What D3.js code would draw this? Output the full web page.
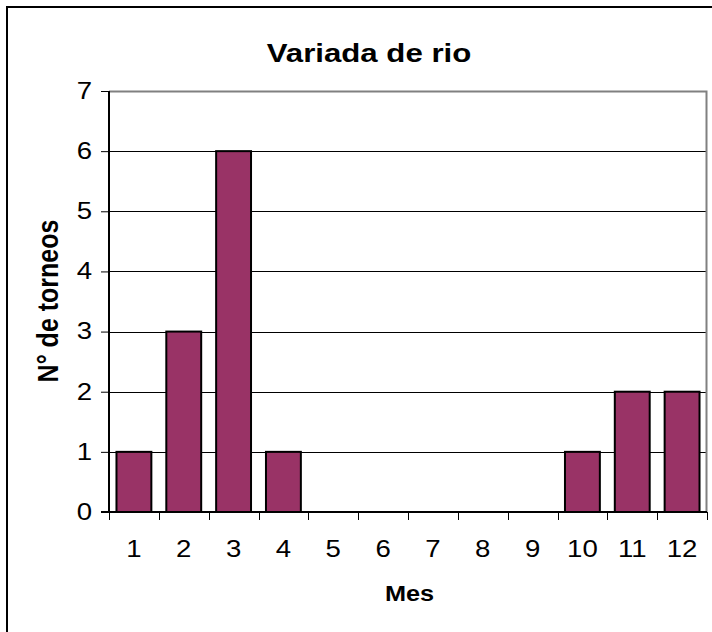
<!DOCTYPE html>
<html>
<head>
<meta charset="utf-8">
<script src="https://cdn.jsdelivr.net/npm/d3@7"></script>
<style>
  html, body { margin: 0; padding: 0; background: #fff; }
  svg { display: block; }
  text { font-family: "Liberation Sans", Arial, Helvetica, sans-serif; fill: #000; }
</style>
</head>
<body>
<svg id="chart" width="712" height="632"></svg>
<script>
const categories = ["1","2","3","4","5","6","7","8","9","10","11","12"];
const values = [1, 3, 6, 1, 0, 0, 0, 0, 0, 1, 2, 2];
const yTicks = [0, 1, 2, 3, 4, 5, 6, 7];
const titleText = "Variada de rio";
const xTitle = "Mes";
const yTitle = "N° de torneos";

const svg = d3.select("#chart");
const plot = { left: 109, right: 707, top: 91, bottom: 512 };

// outer chart border
svg.append("rect")
  .attr("x", 7).attr("y", 7)
  .attr("width", 740).attr("height", 660)
  .attr("fill", "#fff").attr("stroke", "#000").attr("stroke-width", 2);

const xb = d3.scaleBand().domain(categories).range([plot.left, plot.right]);
const y = d3.scaleLinear().domain([0, 7]).range([plot.bottom, plot.top]);

// gridlines
svg.append("g").selectAll("line").data(yTicks.filter(d => d > 0)).join("line")
  .attr("x1", plot.left).attr("x2", plot.right)
  .attr("y1", d => Math.round(y(d)) + 0.5).attr("y2", d => Math.round(y(d)) + 0.5)
  .attr("stroke", "#000").attr("stroke-width", 1);

// plot area border (gray top/right)
svg.append("path")
  .attr("d", `M${plot.left},${plot.top + 0.5}H${plot.right - 0.5}V${plot.bottom}`)
  .attr("fill", "none").attr("stroke", "#808080").attr("stroke-width", 2);

// bars
svg.append("g").selectAll("rect")
  .data(values.map((v, i) => ({ c: categories[i], v })).filter(d => d.v > 0))
  .join("rect")
  .attr("x", d => xb(d.c) + xb.bandwidth() * 0.15)
  .attr("width", xb.bandwidth() * 0.70)
  .attr("y", d => y(d.v))
  .attr("height", d => y(0) - y(d.v))
  .attr("fill", "#993366")
  .attr("stroke", "#000")
  .attr("stroke-width", 2);

// y axis
const yAxis = d3.axisLeft(y).tickValues(yTicks).tickSize(8).tickPadding(9).tickFormat(d3.format("d"));
const gy = svg.append("g").attr("transform", `translate(${plot.left},0)`).call(yAxis);
gy.select(".domain").attr("stroke", "#000").attr("stroke-width", 2).attr("d", `M0,${plot.top}V${plot.bottom}`);
gy.selectAll(".tick line").attr("stroke", "#000").attr("stroke-width", 1);
gy.selectAll(".tick text").attr("font-size", 23).attr("font-family", "Liberation Sans, Arial, sans-serif")
  .attr("fill", "#000").attr("x", 0).attr("transform", "translate(-17,0) scale(1.2,1)");

// x axis
const xAxis = d3.axisBottom(xb).tickSize(0).tickPadding(0);
const gx = svg.append("g").attr("transform", `translate(0,${plot.bottom})`).call(xAxis);
gx.select(".domain").attr("stroke", "#000").attr("stroke-width", 2).attr("d", `M${plot.left - 8},0H${plot.right}`);
gx.selectAll(".tick text").attr("font-size", 23).attr("font-family", "Liberation Sans, Arial, sans-serif")
  .attr("fill", "#000").attr("dy", 0).attr("y", 0).attr("transform", "translate(0,45) scale(1.2,1)");
// category boundary ticks
svg.append("g").selectAll("line").data(d3.range(categories.length + 1)).join("line")
  .attr("x1", i => Math.round(plot.left + i * xb.step()) + 0.5)
  .attr("x2", i => Math.round(plot.left + i * xb.step()) + 0.5)
  .attr("y1", plot.bottom).attr("y2", plot.bottom + 8)
  .attr("stroke", "#000").attr("stroke-width", 1);

// titles
svg.append("text").attr("transform", "translate(369,62) scale(1.2,1)")
  .attr("text-anchor", "middle").attr("font-size", 26).attr("font-weight", "bold").text(titleText);
svg.append("text").attr("transform", "translate(409.5,601) scale(1.15,1)")
  .attr("text-anchor", "middle").attr("font-size", 22).attr("font-weight", "bold").text(xTitle);
svg.append("text").attr("transform", "translate(58,301) scale(1.15,1) rotate(-90)")
  .attr("text-anchor", "middle").attr("font-size", 25).attr("font-weight", "bold").text(yTitle);
</script>
</body>
</html>
